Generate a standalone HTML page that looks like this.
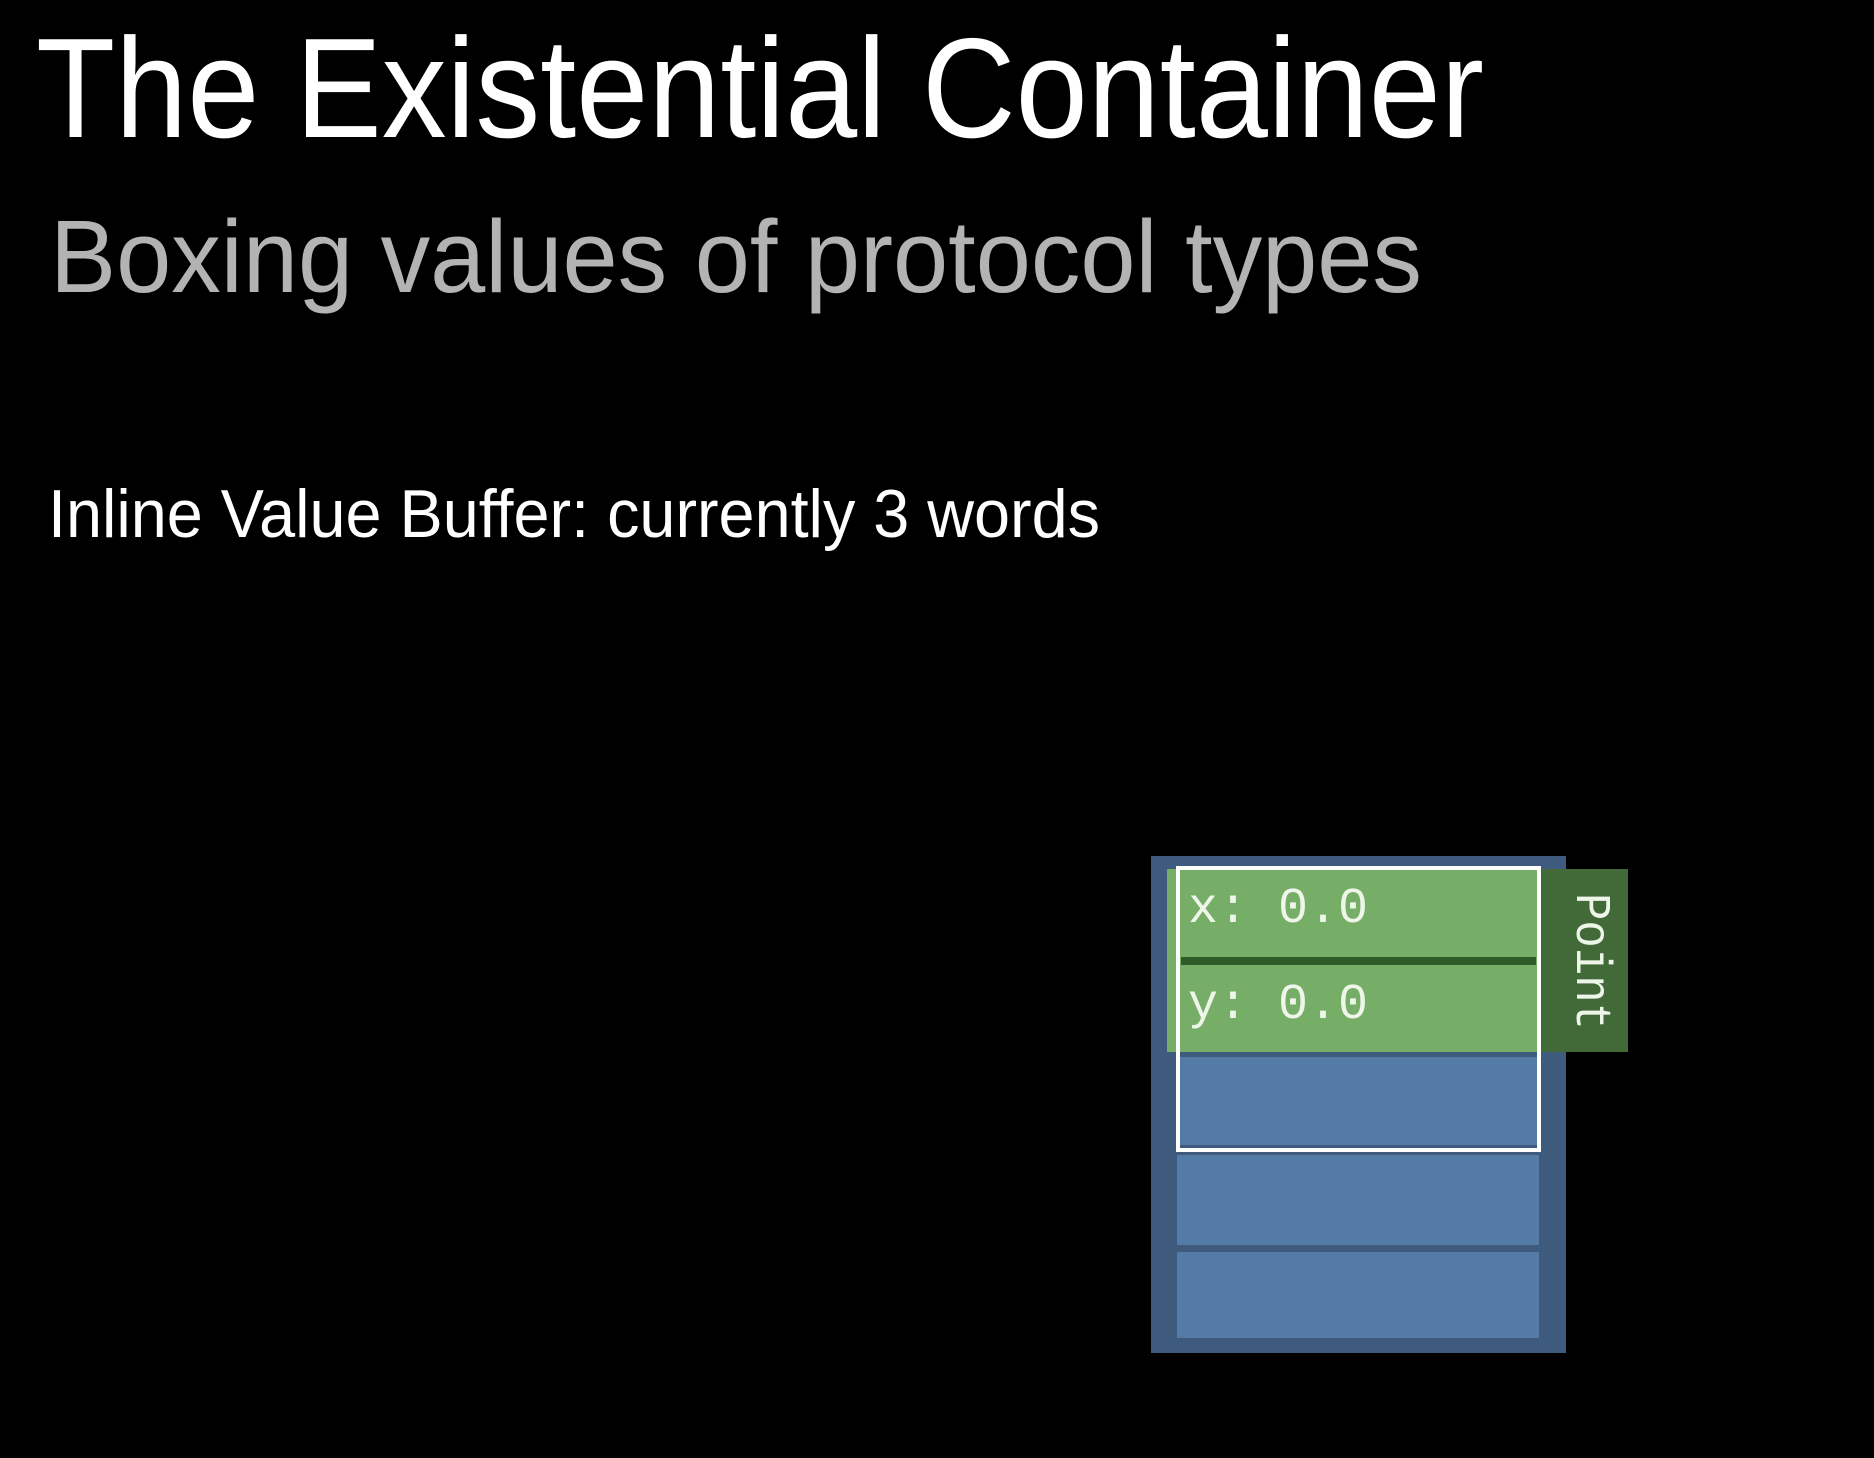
<!DOCTYPE html>
<html><head><meta charset="utf-8"><style>
html,body{margin:0;padding:0;background:#000;}
svg{display:block;}
</style></head><body>
<svg width="1874" height="1458" viewBox="0 0 1874 1458" xmlns="http://www.w3.org/2000/svg">
<rect width="1874" height="1458" fill="#000"/>
<text x="36" y="137" font-family="Liberation Sans, sans-serif" font-size="142" fill="#fff" textLength="1448" lengthAdjust="spacingAndGlyphs">The Existential Container</text>
<text x="50" y="292" font-family="Liberation Sans, sans-serif" font-size="103" fill="#b3b3b3" textLength="1372" lengthAdjust="spacingAndGlyphs">Boxing values of protocol types</text>
<text x="48" y="537" font-family="Liberation Sans, sans-serif" font-size="68" fill="#fff" textLength="1052" lengthAdjust="spacingAndGlyphs">Inline Value Buffer: currently 3 words</text>
<rect x="1151" y="856" width="415" height="497" fill="#3e5b7e"/>
<rect x="1177" y="1057" width="362" height="88" fill="#547aa6"/>
<rect x="1177" y="1155" width="362" height="90" fill="#547aa6"/>
<rect x="1177" y="1252" width="362" height="86" fill="#547aa6"/>
<rect x="1167" y="869" width="373" height="183" fill="#76ae68"/>
<rect x="1181" y="957" width="355" height="8" fill="#2f5a2a"/>
<rect x="1540" y="869" width="88" height="183" fill="#426a38"/>
<rect x="1178" y="868" width="361" height="282" fill="none" stroke="#fff" stroke-width="4"/>
<text x="1188" y="922" font-family="Liberation Mono, monospace" font-size="50" fill="#eef6ea">x: 0.0</text>
<text x="1188" y="1018" font-family="Liberation Mono, monospace" font-size="50" fill="#eef6ea">y: 0.0</text>
<text transform="translate(1577,893) rotate(90)" font-family="Liberation Mono, monospace" font-size="50" fill="#eef6ea" textLength="137" lengthAdjust="spacingAndGlyphs">Point</text>
</svg>
</body></html>
